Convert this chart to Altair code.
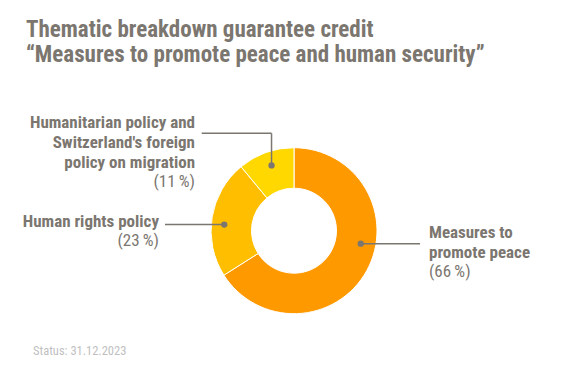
import altair as alt
import pandas as pd
import math

# ---- data ----
categories = ["Measures to promote peace", "Human rights policy",
              "Humanitarian policy and Switzerland's foreign policy on migration"]
shares = [66, 23, 11]
colors = ["#FF9900", "#FFBF00", "#FFD800"]

title_lines = ["Thematic breakdown guarantee credit",
               "\u201cMeasures to promote peace and human security\u201d"]
label_lines = [["Measures to", "promote peace"],
               ["Human rights policy"],
               ["Humanitarian policy and", "Switzerland's foreign", "policy on migration"]]
pct_labels = ["(66\u2009%)", "(23\u2009%)", "(11\u2009%)"]
status_text = "Status: 31.12.2023"

# ---- layout ----
W, H = 572, 352
CX, CY = 286, 222.7
R_OUT, R_IN = 83, 42.5
FONT = "Roboto Condensed"
GREY = "#7b766f"

df = pd.DataFrame({"cat": categories, "val": shares, "order": [0, 1, 2]})

arc = alt.Chart(df).mark_arc(innerRadius=R_IN, outerRadius=R_OUT, stroke="white",
                             strokeWidth=1).encode(
    theta=alt.Theta("val:Q", stack=True),
    order=alt.Order("order:Q"),
    color=alt.Color("cat:N", scale=alt.Scale(domain=categories, range=colors), legend=None),
    x=alt.value(CX), y=alt.value(CY),
)

# leader anchors (angle from 12 o'clock, clockwise; radius)
dot_angles = [101, 275, 341]
dot_r = [68, 70, 69]
dots = pd.DataFrame({
    "x": [CX + r * math.sin(math.radians(a)) for a, r in zip(dot_angles, dot_r)],
    "y": [CY - r * math.cos(math.radians(a)) for a, r in zip(dot_angles, dot_r)],
})
XS = dict(scale=None, axis=None)
dot_layer = alt.Chart(dots).mark_circle(size=40, color=GREY, opacity=1).encode(
    x=alt.X("x:Q", **XS), y=alt.Y("y:Q", **XS))

# leader segments
segs = pd.DataFrame({
    "x": [dots.x[0], dots.x[1], 193.7, dots.x[2]],
    "y": [dots.y[0], dots.y[1], 125.3, 125.3],
    "x2": [412, 157, dots.x[2], dots.x[2]],
    "y2": [dots.y[0], dots.y[1], 125.3, dots.y[2]],
})
seg_layer = alt.Chart(segs).mark_rule(color=GREY, strokeWidth=1.5).encode(
    x=alt.X("x:Q", **XS), y=alt.Y("y:Q", **XS), x2="x2:Q", y2="y2:Q")

# titles
tdf = pd.DataFrame({"t": title_lines, "x": [18, 18], "y": [28.7, 53.7]})
title_layer = alt.Chart(tdf).mark_text(font=FONT, fontSize=23, fontWeight="bold", color=GREY,
                                       align="left", baseline="alphabetic").encode(
    x=alt.X("x:Q", **XS), y=alt.Y("y:Q", **XS), text="t:N")

# labels
rows = []
anchors = [(421, 230.3, "left"), (151, 219.3, "right"), (187, 119.7, "right")]
for lines, pct, (ax, ay, al) in zip(label_lines, pct_labels, anchors):
    for i, ln in enumerate(lines):
        rows.append({"t": ln, "x": ax, "y": ay + 20 * i, "al": al, "w": "bold"})
    rows.append({"t": pct, "x": ax, "y": ay + 20 * len(lines) - 1, "al": al, "w": "normal"})
ldf = pd.DataFrame(rows)
label_layers = []
for al in ["left", "right"]:
    for w in ["bold", "normal"]:
        sub = ldf[(ldf.al == al) & (ldf.w == w)]
        label_layers.append(alt.Chart(sub).mark_text(
            font=FONT, fontSize=17, fontWeight=w, color=GREY, align=al,
            baseline="alphabetic").encode(
            x=alt.X("x:Q", **XS), y=alt.Y("y:Q", **XS), text="t:N"))

sdf = pd.DataFrame({"t": [status_text], "x": [25], "y": [347]})
status_layer = alt.Chart(sdf).mark_text(font=FONT, fontSize=12.5, color="#bfbfbf",
                                        align="left", baseline="alphabetic").encode(
    x=alt.X("x:Q", **XS), y=alt.Y("y:Q", **XS), text="t:N")

chart = alt.layer(arc, seg_layer, dot_layer, title_layer, *label_layers, status_layer).properties(
    width=W, height=H, padding=0, autosize=alt.AutoSizeParams(type="none")
).configure_view(stroke=None)

chart.save("out.html", embed_options={"renderer": "svg", "actions": False})
